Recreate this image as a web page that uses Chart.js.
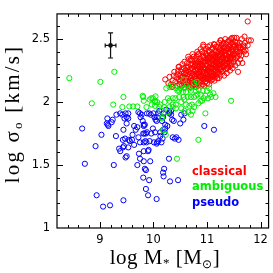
<!DOCTYPE html>
<html>
<head>
<meta charset="utf-8">
<script src="https://cdn.jsdelivr.net/npm/chart.js@4.4.1/dist/chart.umd.min.js"></script>
<style>
html, body { margin: 0; padding: 0; background: #fff; }
</style>
</head>
<body>
<canvas id="myChart" width="273" height="273"></canvas>
<script>
// tick labels
const xTicks = [9, 10, 11, 12];
const yTicks = [1, 1.5, 2, 2.5];

// [log M*, log sigma0]
const classical = [
  [10.22,2.18],[10.28,2.15],[10.30,2.20],[10.33,2.14],[10.36,2.17],[10.38,2.21],[10.35,2.12],[10.39,2.24],[10.47,2.28],
  [10.41,2.16],[10.43,2.20],[10.44,2.13],[10.46,2.25],[10.47,2.18],[10.48,2.28],[10.49,2.14],[10.45,2.22],
  [10.51,2.17],[10.52,2.24],[10.53,2.13],[10.54,2.30],[10.55,2.20],[10.56,2.15],[10.57,2.27],[10.58,2.32],[10.58,2.12],[10.59,2.22],[10.55,2.18],[10.52,2.26],
  [10.61,2.14],[10.61,2.25],[10.62,2.19],[10.63,2.31],[10.64,2.16],[10.64,2.28],[10.65,2.22],[10.66,2.34],[10.66,2.13],[10.67,2.20],[10.68,2.26],[10.68,2.17],[10.69,2.30],[10.69,2.12],[10.62,2.23],[10.65,2.36],
  [10.71,2.15],[10.71,2.27],[10.72,2.21],[10.72,2.33],[10.73,2.13],[10.74,2.18],[10.74,2.30],[10.75,2.24],[10.75,2.36],[10.76,2.14],[10.76,2.28],[10.77,2.20],[10.77,2.34],[10.78,2.16],[10.78,2.25],[10.79,2.31],[10.79,2.12],[10.73,2.38],[10.76,2.22],[10.70,2.19],
  [10.80,2.14],[10.80,2.29],[10.81,2.22],[10.81,2.36],[10.82,2.17],[10.82,2.40],[10.83,2.26],[10.83,2.13],[10.84,2.32],[10.84,2.19],[10.85,2.24],[10.85,2.38],[10.86,2.15],[10.86,2.28],[10.87,2.21],[10.87,2.34],[10.88,2.18],[10.88,2.42],[10.89,2.26],[10.89,2.13],[10.82,2.30],[10.85,2.20],[10.87,2.30],[10.80,2.25],
  [10.90,2.17],[10.90,2.33],[10.91,2.24],[10.91,2.40],[10.92,2.14],[10.92,2.29],[10.93,2.21],[10.93,2.44],[10.94,2.36],[10.94,2.18],[10.95,2.27],[10.95,2.13],[10.96,2.32],[10.96,2.23],[10.97,2.39],[10.97,2.16],[10.98,2.26],[10.98,2.42],[10.99,2.20],[10.99,2.34],[10.91,2.30],[10.93,2.26],[10.95,2.35],[10.97,2.30],[10.96,2.19],[10.92,2.37],
  [11.00,2.15],[11.00,2.29],[11.01,2.37],[11.01,2.22],[11.02,2.44],[11.02,2.18],[11.03,2.32],[11.03,2.26],[11.04,2.40],[11.04,2.14],[11.05,2.21],[11.05,2.35],[11.06,2.28],[11.06,2.45],[11.07,2.17],[11.07,2.31],[11.08,2.24],[11.08,2.38],[11.09,2.20],[11.09,2.42],[11.01,2.33],[11.03,2.20],[11.05,2.27],[11.06,2.36],[11.08,2.30],[11.02,2.25],[11.04,2.31],[11.09,2.27],
  [11.10,2.18],[11.10,2.34],[11.11,2.26],[11.11,2.43],[11.12,2.21],[11.12,2.38],[11.13,2.30],[11.13,2.46],[11.14,2.17],[11.14,2.33],[11.15,2.25],[11.15,2.41],[11.16,2.28],[11.16,2.20],[11.17,2.36],[11.17,2.44],[11.18,2.23],[11.18,2.31],[11.19,2.39],[11.19,2.19],[11.11,2.30],[11.13,2.24],[11.15,2.35],[11.16,2.40],[11.18,2.27],[11.12,2.33],[11.14,2.37],[11.17,2.29],
  [11.20,2.22],[11.20,2.35],[11.21,2.29],[11.21,2.44],[11.22,2.19],[11.22,2.40],[11.23,2.32],[11.23,2.47],[11.24,2.26],[11.24,2.37],[11.25,2.21],[11.25,2.43],[11.26,2.30],[11.26,2.49],[11.27,2.34],[11.27,2.24],[11.28,2.41],[11.28,2.28],[11.29,2.36],[11.29,2.46],[11.21,2.36],[11.23,2.27],[11.25,2.33],[11.27,2.39],[11.28,2.32],[11.22,2.31],
  [11.30,2.25],[11.30,2.40],[11.31,2.32],[11.31,2.47],[11.32,2.21],[11.32,2.37],[11.33,2.29],[11.33,2.44],[11.34,2.34],[11.34,2.50],[11.35,2.26],[11.35,2.41],[11.36,2.31],[11.36,2.46],[11.37,2.37],[11.37,2.23],[11.38,2.43],[11.38,2.30],[11.39,2.35],[11.39,2.48],[11.33,2.39],[11.36,2.34],
  [11.40,2.28],[11.40,2.42],[11.41,2.36],[11.41,2.49],[11.42,2.31],[11.43,2.45],[11.43,2.25],[11.44,2.39],[11.44,2.34],[11.45,2.47],[11.46,2.30],[11.46,2.41],[11.47,2.37],[11.47,2.51],[11.48,2.44],[11.48,2.27],[11.49,2.35],[11.42,2.40],
  [11.50,2.32],[11.51,2.44],[11.52,2.38],[11.52,2.48],[11.53,2.29],[11.54,2.42],[11.55,2.35],[11.56,2.47],[11.57,2.40],[11.58,2.31],[11.59,2.45],[11.55,2.51],
  [11.60,2.38],[11.61,2.47],[11.62,2.34],[11.63,2.43],[11.65,2.50],[11.66,2.31],[11.68,2.45],[11.69,2.40],
  [11.71,2.47],[11.73,2.38],[11.72,2.41],[11.76,2.45],[11.78,2.49],
  [11.76,2.64],[10.93,2.455],[11.25,2.49],[11.51,2.51],[11.70,2.52],[11.82,2.49],[11.58,2.24],[11.38,2.27],[10.70,2.34],[10.83,2.38],[11.14,2.455],[11.45,2.50],
  [10.50,2.21],[10.53,2.19],[10.57,2.23],[10.60,2.17],[10.63,2.27],[10.66,2.24],[10.67,2.15],[10.70,2.23],[10.72,2.17],[10.74,2.26],
  [10.77,2.29],[10.78,2.19],[10.80,2.20],[10.81,2.33],[10.83,2.23],[10.84,2.28],[10.86,2.25],[10.88,2.32],[10.89,2.20],[10.90,2.28],
  [10.91,2.19],[10.93,2.32],[10.94,2.24],[10.96,2.27],[10.98,2.22],[10.99,2.37],[11.00,2.25],[11.01,2.19],[11.02,2.35],[11.03,2.41],
  [11.05,2.24],[11.06,2.19],[11.07,2.34],[11.08,2.27],[11.10,2.22],[11.10,2.38],[11.11,2.20],[11.12,2.29],[11.13,2.36],[11.15,2.22],
  [11.16,2.32],[11.17,2.25],[11.19,2.34],[11.19,2.28],[11.20,2.30],[11.21,2.24],[11.22,2.37],[11.23,2.42],[11.24,2.30],[11.26,2.26],
  [11.26,2.38],[11.27,2.45],[11.29,2.31],[11.30,2.35],[11.31,2.28],[11.32,2.43],[11.34,2.30],[11.35,2.37],[11.36,2.27],[11.37,2.42],
  [11.38,2.34],[11.40,2.32],[11.41,2.44],[11.43,2.35],[11.44,2.29],[11.45,2.42],[11.46,2.36],[11.48,2.40],[11.49,2.46],[11.50,2.38],
  [11.52,2.34],[11.53,2.45],[11.55,2.40],[11.57,2.36],[11.58,2.43],[11.60,2.44],[11.62,2.40],[11.64,2.37],[11.67,2.42],[11.70,2.44]
];

const ambiguous = [
  [8.43,2.19],[9.01,2.16],[9.27,2.24],[8.85,1.99],[9.25,1.98],[9.44,2.04],[9.42,1.96],[9.55,1.965],[9.62,1.965],[9.70,1.965],
  [9.80,2.05],[9.81,2.04],[9.87,1.96],[9.82,2.01],[9.96,2.03],[10.04,2.045],[10.03,2.00],
  [10.24,2.11],[10.30,2.12],[10.36,2.13],[10.42,2.11],[10.45,2.09],[10.50,2.11],[10.58,2.11],[10.62,2.13],[10.68,2.11],[10.76,2.15],
  [10.48,2.09],[10.55,2.08],[10.61,2.08],[10.70,2.09],[10.79,2.09],[10.85,2.10],[10.92,2.09],[11.00,2.09],[11.04,2.11],[11.12,2.07],[11.16,2.04],
  [10.97,2.05],[10.88,2.06],[10.82,2.06],[10.76,2.04],[10.70,2.04],[10.64,2.04],[10.56,2.04],[10.48,2.04],[10.41,2.03],[10.36,2.03],[10.30,2.01],
  [10.36,1.98],[10.42,1.98],[10.52,2.00],[10.58,2.02],[10.61,1.98],[10.67,1.97],[10.72,1.98],[10.76,1.96],[10.84,1.99],[10.88,2.01],[10.94,2.03],[11.02,2.03],[11.08,2.04],
  [10.73,1.93],[10.70,1.90],[10.65,1.92],[10.58,1.93],[10.52,1.95],[10.42,1.95],[10.36,1.96],[10.30,1.96],[10.27,1.92],[10.20,1.96],[10.15,1.93],[10.16,1.88],
  [10.11,1.96],[10.07,2.00],[10.03,2.01],[9.99,2.03],[9.93,2.02],[9.97,1.98],[10.03,1.97],
  [10.97,1.91],[10.84,1.70],[10.44,1.55],[10.18,1.78],[10.23,1.74],[10.16,1.87],[11.45,2.01],[11.06,2.06],[10.91,2.01],[10.79,2.05],
  [10.56,2.18],[10.81,2.16],[10.27,2.03],[10.21,2.00],[10.13,1.98]
];

const pseudo = [
  [8.67,1.79],[9.03,1.74],[9.14,1.87],[9.13,1.83],[9.15,1.82],[9.16,1.81],[9.31,1.90],[9.38,1.91],[9.42,1.90],[9.48,1.91],[9.53,1.91],[9.50,1.88],[9.53,1.87],[9.46,1.87],
  [9.30,1.73],[9.44,1.78],[9.47,1.71],[9.43,1.70],[9.54,1.70],[9.61,1.74],[9.64,1.81],[9.56,1.69],[9.60,1.70],[9.67,1.78],[9.70,1.80],[9.72,1.92],[9.75,1.91],[9.76,1.88],
  [9.78,1.90],[9.80,1.85],[9.82,1.82],[9.82,1.81],[9.84,1.82],[9.81,1.75],[9.83,1.75],[9.86,1.75],[9.88,1.76],[9.82,1.68],[9.85,1.69],[9.87,1.68],[9.75,1.68],[9.72,1.72],
  [9.73,1.59],[9.82,1.61],[9.90,1.61],[9.91,1.62],[9.93,1.69],[9.88,1.91],[9.92,1.91],[9.95,1.90],[10.00,1.91],[10.02,1.88],[10.04,1.86],[10.06,1.85],[10.07,1.88],
  [10.03,1.76],[10.07,1.68],[10.09,1.69],[10.15,1.68],[10.17,1.71],[10.16,1.85],[10.18,1.88],[10.19,1.91],[10.22,1.82],[10.26,1.81],[10.30,1.92],[10.33,1.90],[10.35,1.86],
  [10.38,1.85],[10.36,1.72],[10.40,1.71],[10.43,1.72],[10.47,1.70],[10.50,1.83],[10.52,1.90],[10.56,1.86],[10.58,1.91],[10.11,1.93],[10.24,1.94],[10.09,1.91],[10.13,1.76],
  [10.18,1.78],[10.21,1.76],[10.22,1.79],[10.13,1.73],[9.99,1.79],[9.96,1.75],[10.33,1.93],[10.30,1.91],
  [8.72,1.51],[9.26,1.50],[9.48,1.56],[9.50,1.57],[9.43,1.64],[9.36,1.63],[9.38,1.61],[9.53,1.64],[9.45,1.65],[8.94,1.26],[9.06,1.17],[9.19,1.18],[9.44,1.22],
  [9.70,1.50],[9.84,1.47],[9.86,1.46],[9.81,1.40],[9.92,1.38],[9.86,1.31],[9.90,1.26],[9.94,1.53],[10.20,1.47],[10.18,1.44],[10.19,1.41],[10.31,1.37],[10.46,1.38],
  [10.29,1.55],[10.06,1.23],[10.95,1.81],[11.13,1.78],[9.82,1.53],[9.75,1.55],[10.01,1.68],[10.06,1.67],[9.64,1.66],[9.50,1.83],[9.24,1.86],[9.22,1.84],[8.92,1.65]
];

// typical error bar
const errPoint = [9.2, 2.45];
const errSize = [0.1, 0.1];

const legendLabels = ['classical', 'ambiguous', 'pseudo'];
const seriesColors = ['#ff0000', '#00ee00', '#0000ff'];

const toXY = arr => arr.map(p => ({ x: p[0], y: p[1] }));

function drawParts(ctx, parts, x, y, spacing) {
    // draws text pieces with sub-scripts, centred on x
    ctx.letterSpacing = (spacing || 0) + 'px';
    let total = 0;
    parts.forEach(p => {
        ctx.font = p.size + 'px "Liberation Serif", serif';
        total += ctx.measureText(p.t).width;
    });
    let cx = x - total / 2;
    parts.forEach(p => {
        ctx.font = p.size + 'px "Liberation Serif", serif';
        ctx.fillText(p.t, cx, y + (p.dy || 0));
        cx += ctx.measureText(p.t).width;
    });
    ctx.letterSpacing = '0px';
}

const framePlugin = {
    id: 'frame',
    afterDraw(chart) {
        const ctx = chart.ctx;
        const a = chart.chartArea;
        const xs = chart.scales.x, ys = chart.scales.y;
        ctx.save();
        ctx.strokeStyle = '#000';
        ctx.lineWidth = 1.2;
        ctx.strokeRect(a.left, a.top, a.right - a.left, a.bottom - a.top);

        // inward ticks on all four sides
        ctx.lineWidth = 1;
        ctx.beginPath();
        for (let i = 41; i <= 120; i++) {
            const v = i / 10;
            if (i % 2) continue;
            const px = Math.round(xs.getPixelForValue(v)) + 0.5;
            if (px <= a.left + 1 || px >= a.right - 1) continue;
            const len = (i % 10 === 0) ? 6 : 3;
            ctx.moveTo(px, a.bottom); ctx.lineTo(px, a.bottom - len);
            ctx.moveTo(px, a.top); ctx.lineTo(px, a.top + len);
        }
        for (let i = 10; i <= 27; i++) {
            const v = i / 10;
            const py = Math.round(ys.getPixelForValue(v)) + 0.5;
            if (py <= a.top + 1 || py >= a.bottom - 1) continue;
            const len = (i % 5 === 0) ? 6 : 3;
            ctx.moveTo(a.left, py); ctx.lineTo(a.left + len, py);
            ctx.moveTo(a.right, py); ctx.lineTo(a.right - len, py);
        }
        ctx.stroke();

        // error bar
        const ex = xs.getPixelForValue(errPoint[0]);
        const ey = ys.getPixelForValue(errPoint[1]);
        const x0 = xs.getPixelForValue(errPoint[0] - errSize[0]);
        const x1 = xs.getPixelForValue(errPoint[0] + errSize[0]);
        const y0 = ys.getPixelForValue(errPoint[1] - errSize[1]);
        const y1 = ys.getPixelForValue(errPoint[1] + errSize[1]);
        ctx.strokeStyle = '#111';
        ctx.lineWidth = 1.2;
        ctx.beginPath();
        ctx.moveTo(ex, y0); ctx.lineTo(ex, y1);
        ctx.moveTo(ex - 2.5, y0); ctx.lineTo(ex + 2.5, y0);
        ctx.moveTo(ex - 2.5, y1); ctx.lineTo(ex + 2.5, y1);
        ctx.moveTo(x0, ey); ctx.lineTo(x1, ey);
        ctx.moveTo(x0, ey - 2); ctx.lineTo(x0, ey + 2);
        ctx.moveTo(x1, ey - 2); ctx.lineTo(x1, ey + 2);
        ctx.stroke();
        ctx.fillStyle = '#111';
        ctx.beginPath();
        ctx.arc(ex, ey, 2.3, 0, Math.PI * 2);
        ctx.fill();

        // legend text
        ctx.font = 'bold 11.5px "DejaVu Sans", sans-serif';
        ctx.textAlign = 'left';
        ctx.textBaseline = 'middle';
        legendLabels.forEach((t, i) => {
            ctx.fillStyle = seriesColors[i];
            ctx.fillText(t, 192, 172 + i * 15.3);
        });

        // axis titles
        ctx.fillStyle = '#000';
        ctx.textBaseline = 'alphabetic';
        drawParts(ctx, [
            { t: 'log M', size: 21 },
            { t: '*', size: 13, dy: 3 },
            { t: ' [M', size: 21 },
            { t: '\u2299', size: 12, dy: 4 },
            { t: ']', size: 21 }
        ], 165, 264, 0.5);

        ctx.translate(19, 114);
        ctx.rotate(-Math.PI / 2);
        drawParts(ctx, [
            { t: 'log \u03c3', size: 21 },
            { t: 'o', size: 13, dy: 3 },
            { t: ' [km/s]', size: 21 }
        ], 0, 0, 2.2);
        ctx.restore();
    }
};

const dotStyle = (color, ord) => ({
    borderColor: color,
    backgroundColor: 'rgba(0,0,0,0)',
    pointRadius: 2.6,
    pointHoverRadius: 2.6,
    borderWidth: 1,
    order: ord
});

const ctx = document.getElementById('myChart').getContext('2d');
const myChart = new Chart(ctx, {
    type: 'scatter',
    data: {
        datasets: [
            Object.assign({ label: 'classical', data: toXY(classical) }, dotStyle(seriesColors[0], 2)),
            Object.assign({ label: 'ambiguous', data: toXY(ambiguous) }, dotStyle(seriesColors[1], 0)),
            Object.assign({ label: 'pseudo', data: toXY(pseudo) }, dotStyle(seriesColors[2], 1))
        ]
    },
    options: {
        responsive: false,
        animation: false,
        devicePixelRatio: 1,
        layout: { padding: { top: 1, right: 3, left: 0, bottom: 0 } },
        plugins: {
            legend: { display: false },
            tooltip: { enabled: false }
        },
        scales: {
            x: {
                type: 'linear',
                min: 8.2,
                max: 12.15,
                grid: { display: false, drawTicks: false },
                border: { display: false },
                afterBuildTicks: s => { s.ticks = xTicks.map(v => ({ value: v })); },
                afterFit: s => { s.height = 45; },
                ticks: {
                    color: '#000',
                    padding: 5,
                    maxRotation: 0,
                    autoSkip: false,
                    font: { family: 'DejaVu Sans', size: 11.5 },
                    callback: v => String(v)
                }
            },
            y: {
                type: 'linear',
                min: 1,
                max: 2.7,
                grid: { display: false, drawTicks: false },
                border: { display: false },
                afterBuildTicks: s => { s.ticks = yTicks.map(v => ({ value: v })); },
                afterFit: s => { s.width = 57; },
                ticks: {
                    color: '#000',
                    padding: 7,
                    autoSkip: false,
                    font: { family: 'DejaVu Sans', size: 11.5 },
                    callback: v => String(v)
                }
            }
        }
    },
    plugins: [framePlugin]
});
</script>
</body>
</html>
